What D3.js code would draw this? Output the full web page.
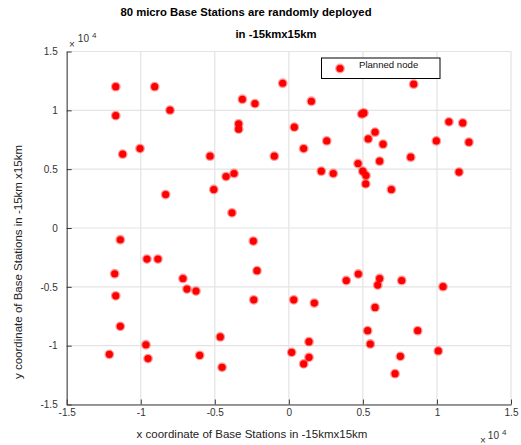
<!DOCTYPE html>
<html>
<head>
<meta charset="utf-8">
<script src="https://cdn.jsdelivr.net/npm/d3@7"></script>
<style>
  body { margin: 0; background: #fff; }
  text { font-family: "Liberation Sans", Arial, Helvetica, sans-serif; }
</style>
</head>
<body>
<div id="chart"></div>
<script>
var w = 521;
var h = 445;

// node coordinates in metres
const xs = [-11690, -9060, -8025, -11690, -415, -3140, -2290, -3390, -3390, -11220,
    -10050, -5320, -980, -4240, -3700, -8320, -5070, -3840, 8430, 1520,
    4920, 5070, 10810, 11740, 370, 5820, 5360, 2560, 9960, 12160,
    6360, 1000, 8230, 4670, 6130, 2190, 3000, 4990, 5210, 11490,
    5190, 6920, -11380, -2400, -9580, -8840, -11760, -2150, -7150, -6880,
    -6270, -11690, -2370, -11380, -4630, -9650, -12120, -9510, -6020, -4510,
    4690, 3880, 6130, 6000, 7620, 10410, 330, 1720, 5820, 5320,
    8700, 1360, 5500, 190, 10090, 1360, 7530, 1000, 7170];
const ys = [12010, 12010, 10010, 9550, 12300, 10940, 10570, 8850, 8400, 6270,
    6750, 6100, 6100, 4370, 4630, 2840, 3270, 1290, 12220, 10770,
    9690, 9780, 9020, 8930, 8570, 8140, 7570, 7400, 7400, 7290,
    7120, 6750, 6020, 5480, 5680, 4830, 4630, 4830, 4460, 4750,
    3750, 3270, -1000, -1110, -2640, -2640, -3890, -3630, -4290, -5190,
    -5360, -5760, -6100, -8360, -9260, -9920, -10740, -11100, -10820, -11840,
    -3910, -4460, -4290, -4850, -4460, -4990, -6100, -6380, -6750, -8730,
    -8730, -9660, -9860, -10570, -10450, -10990, -10910, -11550, -12380];

const tickVals = [-15000, -10000, -5000, 0, 5000, 10000, 15000];
const legendLabel = "Planned node";

const margin = {left: 66.7, right: 10, top: 51.5, bottom: 40.5};

const svg = d3.select("#chart").append("svg").attr("width", w).attr("height", h);

const x = d3.scaleLinear().domain([-15000, 15000]).range([margin.left, w - margin.right]);
const y = d3.scaleLinear().domain([-15000, 15000]).range([h - margin.bottom, margin.top]);

// grid
svg.append("g").selectAll("line.vg")
    .data(tickVals)
    .enter().append("line")
    .attr("x1", d => x(d)).attr("x2", d => x(d))
    .attr("y1", y(-15000)).attr("y2", y(15000))
    .attr("stroke", "#e3e3e3").attr("stroke-width", 1.2);
svg.append("g").selectAll("line.hg")
    .data(tickVals)
    .enter().append("line")
    .attr("y1", d => y(d)).attr("y2", d => y(d))
    .attr("x1", x(-15000)).attr("x2", x(15000))
    .attr("stroke", "#e3e3e3").attr("stroke-width", 1.2);

const fmt = d => String(d / 10000);

const xAxis = svg.append("g")
    .attr("transform", "translate(0," + y(-15000) + ")")
    .call(d3.axisBottom(x).tickValues(tickVals).tickFormat(fmt).tickSize(-5).tickSizeOuter(0).tickPadding(4));
const yAxis = svg.append("g")
    .attr("transform", "translate(" + x(-15000) + ",0)")
    .call(d3.axisLeft(y).tickValues(tickVals).tickFormat(fmt).tickSize(-5).tickSizeOuter(0).tickPadding(9));

[xAxis, yAxis].forEach(a => {
    a.select(".domain").attr("stroke", "#3a3a3a");
    a.selectAll(".tick line").attr("stroke", "#3a3a3a");
    a.selectAll(".tick text").attr("fill", "#333").style("font-size", "10px");
});

// points
svg.append("g").selectAll("circle")
    .data(xs.map((v, i) => [v, ys[i]]))
    .enter().append("circle")
    .attr("cx", d => x(d[0]))
    .attr("cy", d => y(d[1]))
    .attr("r", 3.6)
    .attr("fill", "#ff0000")
    .attr("stroke", "rgba(255,0,0,0.4)")
    .attr("stroke-width", 2.6);

// legend
const lg = svg.append("g").attr("transform", "translate(321.5,58)");
lg.append("rect")
    .attr("width", 118.5).attr("height", 20.5)
    .attr("fill", "#fff").attr("stroke", "#000").attr("stroke-width", 1);
lg.append("circle")
    .attr("cx", 18.5).attr("cy", 10.5).attr("r", 3.6)
    .attr("fill", "#ff0000")
    .attr("stroke", "rgba(255,0,0,0.4)").attr("stroke-width", 2.6);
lg.append("text")
    .attr("x", 37.5).attr("y", 9.5)
    .style("font-size", "9.6px").attr("fill", "#111")
    .text(legendLabel);

// titles
svg.append("text")
    .attr("x", 246).attr("y", 16)
    .attr("text-anchor", "middle")
    .style("font-size", "11.3px").style("font-weight", "bold")
    .text("80 micro Base Stations are randomly deployed");
svg.append("text")
    .attr("x", 276).attr("y", 38)
    .attr("text-anchor", "middle")
    .style("font-size", "11.3px").style("font-weight", "bold")
    .text("in -15kmx15km");

// axis labels
svg.append("text")
    .attr("x", 252).attr("y", 438)
    .attr("text-anchor", "middle")
    .style("font-size", "11.5px").attr("fill", "#222")
    .text("x coordinate of Base Stations in -15kmx15km");
svg.append("text")
    .attr("transform", "translate(22,262) rotate(-90)")
    .attr("text-anchor", "middle")
    .style("font-size", "11.5px").attr("fill", "#222")
    .text("y coordinate of Base Stations in -15km x15km");

// exponent markers
const expTop = svg.append("text").attr("x", 69).attr("y", 48).style("font-size", "10px").attr("fill", "#333");
expTop.append("tspan").text("\u00d7");
expTop.append("tspan").attr("dx", 3).attr("dy", -6).text("10");
expTop.append("tspan").attr("dx", 3).attr("dy", -4).style("font-size", "8px").text("4");

const expBot = svg.append("text").attr("x", 480).attr("y", 444).style("font-size", "10px").attr("fill", "#333");
expBot.append("tspan").text("\u00d7");
expBot.append("tspan").attr("dx", 2).attr("dy", -5).text("10");
expBot.append("tspan").attr("dx", 3).attr("dy", -4).style("font-size", "8px").text("4");
</script>
</body>
</html>
